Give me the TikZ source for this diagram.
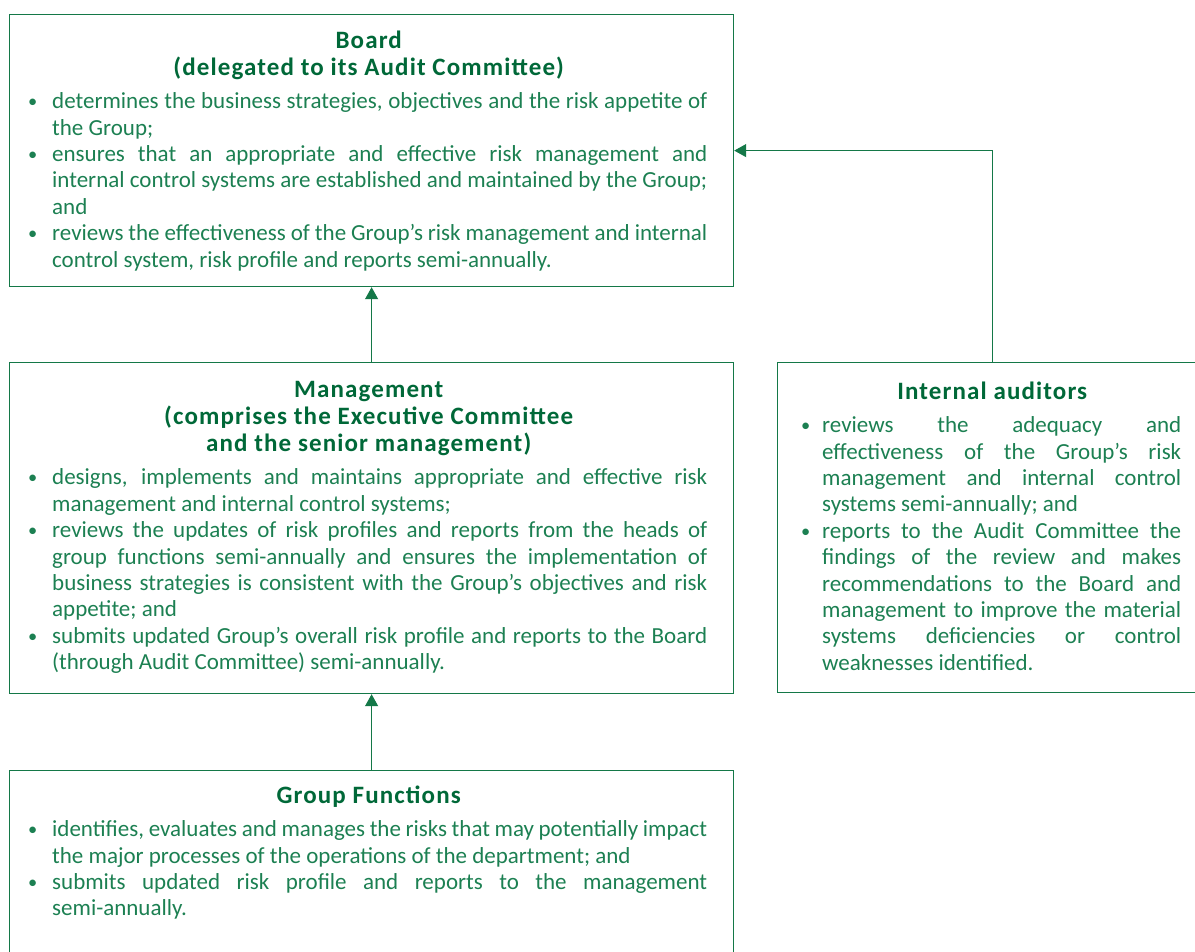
\documentclass[tikz,border=0pt]{standalone}
\usepackage{fontspec}
\setmainfont{Carlito}
\usetikzlibrary{arrows.meta}
\definecolor{hd}{RGB}{0,104,56}
\definecolor{bd}{RGB}{28,128,82}
\definecolor{ln}{RGB}{20,120,72}
\newenvironment{blist}[1]{\begin{list}{\raisebox{1pt}{\scalebox{0.8}{\textbullet}}}{\leftmargin=#1\labelwidth=#1\labelsep=0pt\itemsep=0pt\parsep=0pt\topsep=0pt\partopsep=0pt\itemindent=0pt\rightmargin=0pt\def\makelabel##1{\hspace{-2pt}##1\hfil}}}{\end{list}}
\newcommand{\hdg}[1]{{\centering\color{hd}\fontsize{25}{27}\selectfont\bfseries\addfontfeature{LetterSpace=4.5}#1\par}\vspace{7pt}}
\newcommand{\parset}{\rightskip=0pt \parfillskip=0pt plus 1fil \tolerance=10000 \hyphenpenalty=10000 \exhyphenpenalty=10000 \hbadness=10000 \fontsize{23}{26.4}\selectfont}
\tikzset{
  box/.style={draw=ln, line width=1.2pt, rectangle, inner sep=0pt, anchor=north west},
  txt/.style={anchor=north west, inner sep=0pt, text=bd, align=justify},
  conn/.style={draw=ln, line width=1.2pt, -{Triangle[width=13pt,length=12pt]}}
}
\begin{document}
\begin{tikzpicture}[x=1pt,y=-1pt]
\useasboundingbox (0,0) rectangle (1195,952);
\clip (0,0) rectangle (1195,952);
\node[box, minimum width=724pt, minimum height=272pt] (board) at (9,14) {};
\node[box, minimum width=724pt, minimum height=331pt] (mgmt) at (9,362) {};
\node[box, minimum width=430pt, minimum height=330pt] (aud) at (777,362) {};
\node[box, minimum width=724pt, minimum height=200pt] (grp) at (9,770) {};

\node[txt, text width=677pt] (boardtxt) at (30,30.5) {\parset
\hdg{Board\\(delegated to its Audit Committee)}%
\begin{blist}{22pt}
\item determines the business strategies, objectives and the risk appetite of\linebreak the Group;
\item ensures that an appropriate and effective risk management and\linebreak internal control systems are established and maintained by the Group;\linebreak and
\item reviews the effectiveness of the Group’s risk management and internal\linebreak control system, risk profile and reports semi-annually.
\end{blist}};

\node[txt, text width=677pt] (mgmttxt) at (30,381) {\parset
\hdg{Management\\(comprises the Executive Committee\\and the senior management)}%
\begin{blist}{22pt}
\item designs, implements and maintains appropriate and effective risk\linebreak management and internal control systems;
\item reviews the updates of risk profiles and reports from the heads of\linebreak group functions semi-annually and ensures the implementation of\linebreak business strategies is consistent with the Group’s objectives and risk\linebreak appetite; and
\item submits updated Group’s overall risk profile and reports to the Board\linebreak (through Audit Committee) semi-annually.
\end{blist}};

\node[txt, text width=378pt] (audtxt) at (803,381.5) {\parset
\hdg{Internal auditors}%
\begin{blist}{19pt}
\item reviews the adequacy and\linebreak effectiveness of the Group’s risk\linebreak management and internal control\linebreak systems semi-annually; and
\item reports to the Audit Committee the\linebreak findings of the review and makes\linebreak recommendations to the Board and\linebreak management to improve the material\linebreak systems deficiencies or control\linebreak weaknesses identified.
\end{blist}};

\node[txt, text width=677pt] (grptxt) at (30,785.5) {\parset
\hdg{Group Functions}%
\begin{blist}{22pt}
\item identifies, evaluates and manages the risks that may potentially impact\linebreak the major processes of the operations of the department; and
\item submits updated risk profile and reports to the management\linebreak semi-annually.
\end{blist}};

\draw[conn] (mgmt.north) -- (board.south);
\draw[conn] (grp.north) -- (mgmt.south);
\draw[conn] (aud.north) |- (board.east);
\end{tikzpicture}
\end{document}
